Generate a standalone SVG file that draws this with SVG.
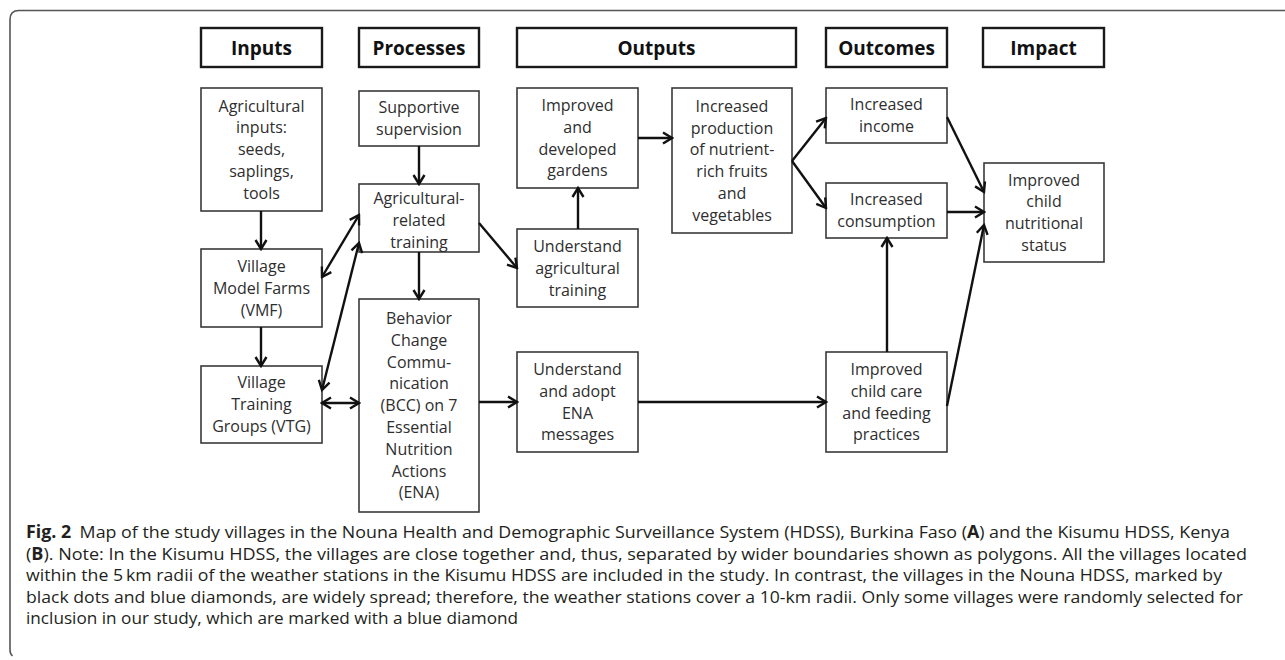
<svg xmlns="http://www.w3.org/2000/svg" width="1285" height="660" viewBox="0 0 1285 660">
<style>
.hdr rect{fill:#fff;stroke:#1a1a1a;stroke-width:2.4}
.hdr text{font-family:"Open Sans","Liberation Sans",sans-serif;font-weight:bold;font-size:19px;fill:#111;text-anchor:middle}
.node rect{fill:#fff;stroke:#3a3a3a;stroke-width:1.6}
.node text{font-family:"Open Sans","Liberation Sans",sans-serif;font-size:16px;fill:#2e2e2e;text-anchor:middle}
.edge{stroke:#111;stroke-width:2.4;fill:none;marker-end:url(#ah)}
.bi{marker-start:url(#ah)}
.cap{font-family:"Open Sans","Liberation Sans",sans-serif;font-size:17px;fill:#231f20}
.b{font-weight:bold}
</style>
<defs>
<marker id="ah" markerUnits="userSpaceOnUse" markerWidth="14" markerHeight="14" viewBox="-12 -7 14 14" refX="0" refY="0" orient="auto-start-reverse">
<path d="M-9,-5.5 L0,0 L-9,5.5" fill="none" stroke="#111" stroke-width="2.4" stroke-linejoin="miter"/>
</marker>
</defs>
<rect width="1285" height="660" fill="#fff"/>
<path d="M1285,10.5 H19 Q10,10.5 10,19.5 V650 Q10,654 12.5,656" fill="none" stroke="#555" stroke-width="1.6"/>

<g id="header-inputs" class="hdr"><rect x="201" y="28" width="121" height="39"/><text x="261.5" y="55">Inputs</text></g>
<g id="header-processes" class="hdr"><rect x="359" y="28" width="120" height="39"/><text x="419" y="55">Processes</text></g>
<g id="header-outputs" class="hdr"><rect x="517" y="28" width="279" height="39"/><text x="656.5" y="55">Outputs</text></g>
<g id="header-outcomes" class="hdr"><rect x="826" y="28" width="121" height="39"/><text x="886.5" y="55">Outcomes</text></g>
<g id="header-impact" class="hdr"><rect x="983" y="28" width="121" height="39"/><text x="1043.5" y="55">Impact</text></g>

<g id="agri-inputs" class="node"><rect x="201" y="88" width="121" height="123"/>
<text x="261.5" y="111.6">Agricultural</text><text x="261.5" y="133.4">inputs:</text><text x="261.5" y="155.2">seeds,</text><text x="261.5" y="177">saplings,</text><text x="261.5" y="198.8">tools</text></g>
<g id="vmf" class="node"><rect x="201" y="249" width="121" height="78"/>
<text x="261.5" y="271.9">Village</text><text x="261.5" y="293.7">Model Farms</text><text x="261.5" y="315.5">(VMF)</text></g>
<g id="vtg" class="node"><rect x="201" y="366" width="121" height="77"/>
<text x="261.5" y="388.4">Village</text><text x="261.5" y="410.2">Training</text><text x="261.5" y="432">Groups (VTG)</text></g>
<g id="supportive" class="node"><rect x="359" y="91" width="120" height="55"/>
<text x="419" y="113.3">Supportive</text><text x="419" y="135.1">supervision</text></g>
<g id="agri-training" class="node"><rect x="359" y="184" width="120" height="68"/>
<text x="419" y="204">Agricultural-</text><text x="419" y="225.8">related</text><text x="419" y="247.6">training</text></g>
<g id="bcc" class="node"><rect x="359" y="299" width="120" height="213"/>
<text x="419" y="324">Behavior</text><text x="419" y="345.8">Change</text><text x="419" y="367.6">Commu-</text><text x="419" y="389.4">nication</text><text x="419" y="411.2">(BCC) on 7</text><text x="419" y="433">Essential</text><text x="419" y="454.8">Nutrition</text><text x="419" y="476.6">Actions</text><text x="419" y="498.4">(ENA)</text></g>
<g id="gardens" class="node"><rect x="517" y="88" width="121" height="100"/>
<text x="577.5" y="111">Improved</text><text x="577.5" y="132.8">and</text><text x="577.5" y="154.6">developed</text><text x="577.5" y="176.4">gardens</text></g>
<g id="understand-agri" class="node"><rect x="517" y="229" width="121" height="78"/>
<text x="577.5" y="251.9">Understand</text><text x="577.5" y="273.7">agricultural</text><text x="577.5" y="295.5">training</text></g>
<g id="understand-ena" class="node"><rect x="517" y="352" width="121" height="100"/>
<text x="577.5" y="375">Understand</text><text x="577.5" y="396.8">and adopt</text><text x="577.5" y="418.6">ENA</text><text x="577.5" y="440.4">messages</text></g>
<g id="production" class="node"><rect x="672" y="88" width="120" height="145"/>
<text x="732" y="111.7">Increased</text><text x="732" y="133.5">production</text><text x="732" y="155.3">of nutrient-</text><text x="732" y="177.1">rich fruits</text><text x="732" y="198.9">and</text><text x="732" y="220.7">vegetables</text></g>
<g id="income" class="node"><rect x="826" y="88" width="121" height="55"/>
<text x="886.5" y="110.3">Increased</text><text x="886.5" y="132.1">income</text></g>
<g id="consumption" class="node"><rect x="826" y="183" width="121" height="55"/>
<text x="886.5" y="205.3">Increased</text><text x="886.5" y="227.1">consumption</text></g>
<g id="childcare" class="node"><rect x="826" y="352" width="121" height="100"/>
<text x="886.5" y="375">Improved</text><text x="886.5" y="396.8">child care</text><text x="886.5" y="418.6">and feeding</text><text x="886.5" y="440.4">practices</text></g>
<g id="nutrition" class="node"><rect x="984" y="163" width="120" height="99"/>
<text x="1044" y="185.5">Improved</text><text x="1044" y="207.3">child</text><text x="1044" y="229.1">nutritional</text><text x="1044" y="250.9">status</text></g>

<g id="connectors">
<line class="edge" x1="261" y1="211" x2="261" y2="249"/>
<line class="edge" x1="261" y1="327" x2="261" y2="366"/>
<line class="edge" x1="419" y1="146" x2="419" y2="184"/>
<line class="edge" x1="419" y1="252" x2="419" y2="299"/>
<line class="edge bi" x1="322" y1="277" x2="359" y2="215"/>
<line class="edge bi" x1="322" y1="390" x2="359" y2="243"/>
<line class="edge bi" x1="322" y1="403" x2="359" y2="403"/>
<line class="edge" x1="479" y1="223" x2="517" y2="268"/>
<line class="edge" x1="479" y1="402" x2="517" y2="402"/>
<line class="edge" x1="578" y1="229" x2="578" y2="188"/>
<line class="edge" x1="638" y1="138" x2="672" y2="138"/>
<line class="edge" x1="638" y1="402" x2="826" y2="402"/>
<line class="edge" x1="792" y1="161" x2="826" y2="118"/>
<line class="edge" x1="792" y1="161" x2="826" y2="208"/>
<line class="edge" x1="887" y1="352" x2="887" y2="238"/>
<line class="edge" x1="947" y1="117" x2="984" y2="192"/>
<line class="edge" x1="947" y1="212" x2="984" y2="212"/>
<line class="edge" x1="947" y1="406" x2="984" y2="225"/>
</g>

<g id="caption" class="cap">
<text x="26" y="538" textLength="1204" lengthAdjust="spacingAndGlyphs"><tspan class="b">Fig. 2</tspan><tspan dx="8">Map of the study villages in the Nouna Health and Demographic Surveillance System (HDSS), Burkina Faso (</tspan><tspan class="b">A</tspan>) and the Kisumu HDSS, Kenya</text>
<text x="26" y="559.5" textLength="1221" lengthAdjust="spacingAndGlyphs">(<tspan class="b">B</tspan>). Note: In the Kisumu HDSS, the villages are close together and, thus, separated by wider boundaries shown as polygons. All the villages located</text>
<text x="26" y="581" textLength="1196" lengthAdjust="spacingAndGlyphs">within the 5&#8201;km radii of the weather stations in the Kisumu HDSS are included in the study. In contrast, the villages in the Nouna HDSS, marked by</text>
<text x="26" y="602.5" textLength="1217" lengthAdjust="spacingAndGlyphs">black dots and blue diamonds, are widely spread; therefore, the weather stations cover a 10-km radii. Only some villages were randomly selected for</text>
<text x="26" y="624" textLength="492" lengthAdjust="spacingAndGlyphs">inclusion in our study, which are marked with a blue diamond</text>
</g>
</svg>
